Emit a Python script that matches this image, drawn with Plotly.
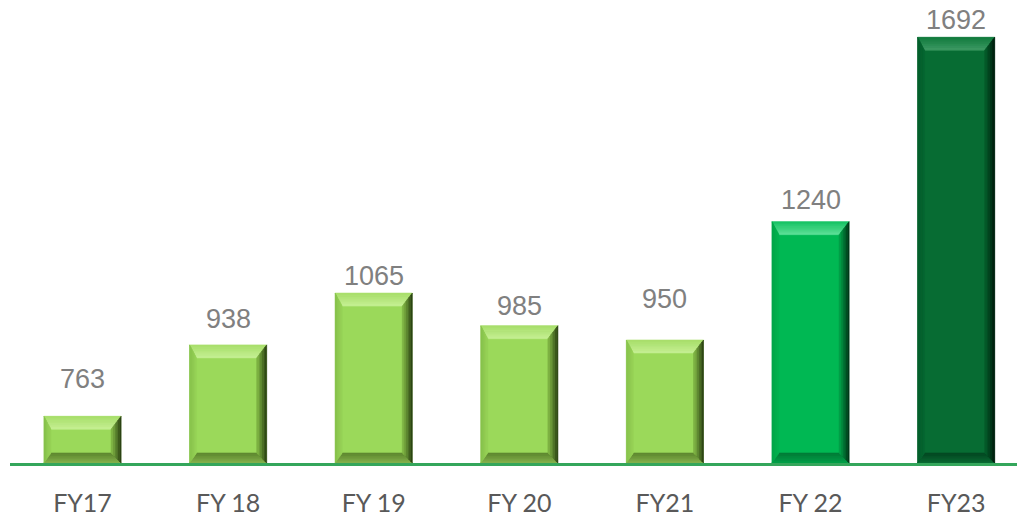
import plotly.graph_objects as go

# Fiscal-year values
categories = ["FY17", "FY 18", "FY 19", "FY 20", "FY21", "FY 22", "FY23"]
values = [763, 938, 1065, 985, 950, 1240, 1692]

# Colour scheme per bar: face, then (outer, inner) colours for the top, left, right and bottom bevels
light = dict(face="#9BD95A",
             top=("#A6DE69", "#C6EF93"), left=("#86C04B", "#97D357"),
             right=("#24380F", "#86BD48"), bottom=("#86B44E", "#5C852E"))
mid = dict(face="#00B853",
           top=("#14C262", "#5EE098"), left=("#00A44A", "#00B350"),
           right=("#002E14", "#00A64A"), bottom=("#00A248", "#007A36"))
dark = dict(face="#076C33",
            top=("#0F7A3D", "#3E9A63"), left=("#055E2C", "#066631"),
            right=("#00160A", "#05602D"), bottom=("#0A6B34", "#034621"))
palettes = [light, light, light, light, light, mid, dark]

# Extra lift (px) of each value label above its bar
label_lift = [20, 9, 0, 3, 24, 5, 0]

BASE = 648.5
PX_PER_UNIT_Y = 0.408
PX_PER_CAT = 145.6
BAR_W = 0.53
STRIPS = 6


def px_x(p):
    return p / PX_PER_CAT


def px_y(p):
    return p / PX_PER_UNIT_Y


def hex_rgb(h):
    h = h.lstrip("#")
    return tuple(int(h[k:k + 2], 16) for k in (0, 2, 4))


def mix(c1, c2, t):
    a, b = hex_rgb(c1), hex_rgb(c2)
    return "rgb({},{},{})".format(*(round(a[k] + (b[k] - a[k]) * t) for k in range(3)))


def lerp(p, q, t):
    return (p[0] + (q[0] - p[0]) * t, p[1] + (q[1] - p[1]) * t)


shapes = []


def bevel(A, B, C, D, colors):
    """Shade the band between outer edge A-B and inner edge C-D in graded strips."""
    for k in range(STRIPS):
        t0, t1 = k / STRIPS, (k + 1) / STRIPS
        pts = [lerp(A, C, t0), lerp(B, D, t0), lerp(B, D, t1), lerp(A, C, t1)]
        d = "M " + " L ".join(f"{a:.5f},{b:.4f}" for a, b in pts) + " Z"
        col = mix(colors[0], colors[1], (k + 0.5) / STRIPS)
        shapes.append(dict(type="path", path=d, xref="x", yref="y",
                           fillcolor=col, line=dict(width=0.6, color=col), layer="above"))


fig = go.Figure()
xs = list(range(len(categories)))
fig.add_trace(go.Bar(
    x=xs, y=[v - BASE for v in values], base=BASE, width=BAR_W,
    marker=dict(color=[p["face"] for p in palettes], line=dict(width=0)),
    hoverinfo="skip", showlegend=False,
))

annotations = []
for i, v in enumerate(values):
    pal = palettes[i]
    x0, x1 = i - BAR_W / 2, i + BAR_W / 2
    y0, y1 = BASE, v
    bt, bb, bl, br = px_y(13), px_y(10), px_x(7), px_x(10)
    tl, tr = (x0, y1), (x1, y1)
    bl_, br_ = (x0, y0), (x1, y0)
    itl, itr = (x0 + bl, y1 - bt), (x1 - br, y1 - bt)
    ibl, ibr = (x0 + bl, y0 + bb), (x1 - br, y0 + bb)
    bevel(tl, tr, itl, itr, pal["top"])
    bevel(bl_, br_, ibl, ibr, pal["bottom"])
    bevel(tl, bl_, itl, ibl, pal["left"])
    bevel(tr, br_, itr, ibr, pal["right"])
    annotations.append(dict(
        x=i, y=v, xref="x", yref="y", text=str(v), showarrow=False,
        yanchor="bottom", yshift=label_lift[i],
        font=dict(family="Liberation Sans, Arial, sans-serif", size=27, color="#808080"),
    ))

fig.update_layout(
    width=1017, height=520,
    margin=dict(l=10, r=0, t=0, b=57),
    paper_bgcolor="white", plot_bgcolor="white",
    shapes=shapes, annotations=annotations,
    xaxis=dict(
        range=[-0.498, 6.418], tickmode="array", tickvals=xs, ticktext=categories,
        showgrid=False, zeroline=False, showline=True, linecolor="#34A65B", linewidth=2.5,
        ticks="", ticklabelstandoff=16, automargin=False,
        tickfont=dict(family="Lato, Open Sans, sans-serif", size=25, color="#595959"),
    ),
    yaxis=dict(range=[BASE, BASE + 463 / PX_PER_UNIT_Y], visible=False,
               showgrid=False, automargin=False),
)

fig.write_html("out.html")
